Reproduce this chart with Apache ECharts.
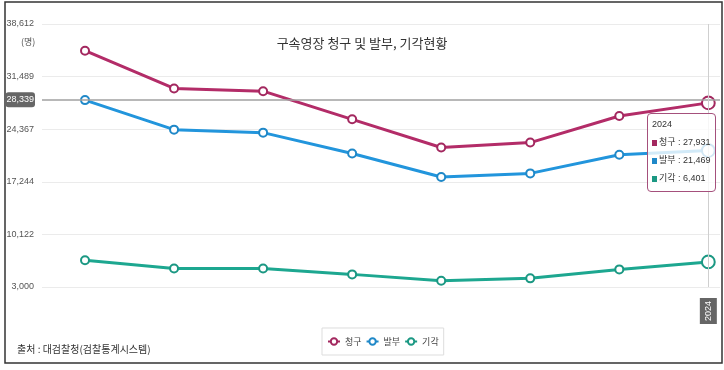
<!DOCTYPE html>
<html>
<head>
<meta charset="utf-8">
<script src="https://cdn.jsdelivr.net/npm/echarts@6/dist/echarts.min.js"></script>
<style>
html,body{margin:0;padding:0;background:#fff;}
#chart{width:724px;height:370px;}
</style>
</head>
<body>
<div id="chart"></div>
<script>
const years = [2017, 2018, 2019, 2020, 2021, 2022, 2023, 2024];
const requested = [34995, 29880, 29516, 25707, 21884, 22557, 26151, 27931]; // 청구
const issued    = [28305, 24307, 23903, 21077, 17900, 18385, 20902, 21469]; // 발부
const rejected  = [6634, 5517, 5517, 4709, 3848, 4171, 5382, 6401];        // 기각
const seriesNames = ['청구', '발부', '기각'];
const yMin = 3000, yMax = 38612, yStep = 7122.4;
const pointerYear = 2024, pointerValue = 28339;

const NARROW = '"Liberation Sans Narrow","Liberation Sans",sans-serif';
const CJK = '"Noto Sans CJK KR","Noto Sans",sans-serif';
const colors = ['#a3285f', '#1f88c8', '#1b9883'];
const fmt = v => Math.floor(v + 1e-6).toLocaleString('en-US');

const chart = echarts.init(document.getElementById('chart'), null, {renderer: 'canvas'});
const mk = (name, vals, color) => ({
  name, type: 'line', data: years.map((y, i) => [y, vals[i]]),
  symbol: 'emptyCircle', symbolSize: 8,
  lineStyle: {color, width: 3},
  itemStyle: {color, borderWidth: 2},
  emphasis: {scale: 1.6, focus: 'none', lineStyle: {width: 3}},
  animation: false
});

chart.setOption({
  animation: false,
  color: colors,
  title: {
    text: '구속영장 청구 및 발부, 기각현황', left: 'center', top: 32,
    textStyle: {fontFamily: CJK, fontSize: 13, fontWeight: 'normal', color: '#333'}
  },
  grid: {left: 42, right: 4, top: 24, bottom: 83, containLabel: false},
  tooltip: {
    trigger: 'axis',
    axisPointer: {type: 'cross'},
    transitionDuration: 0,
    backgroundColor: 'rgba(255,255,255,0.8)',
    borderColor: '#a5507c', borderWidth: 1, padding: [4, 4],
    extraCssText: 'box-shadow:none;border-radius:4px;',
    position: () => [647, 113],
    formatter: params => {
      let s = `<div style="font-family:'Liberation Sans',sans-serif;font-size:9px;color:#333;line-height:17px">` +
        `<div style="line-height:12px;margin-bottom:3px">${params[0].value[0]}</div>`;
      params.forEach(p => {
        s += `<div><span style="display:inline-block;width:5px;height:6px;background:${p.color};margin-right:2px;vertical-align:middle"></span>` +
          `<span style="font-family:'Noto Sans CJK KR';font-size:9px">${p.seriesName}</span> : ${fmt(p.value[1])}</div>`;
      });
      return s + '</div>';
    }
  },
  legend: {
    data: seriesNames, bottom: 15, left: 322,
    borderColor: '#ddd', borderWidth: 1, padding: [9, 5],
    itemWidth: 12, itemHeight: 8, itemGap: 4,
    textStyle: {fontFamily: CJK, fontSize: 9, color: '#444'}
  },
  xAxis: {
    type: 'value', min: 2016.517, max: 2024.131,
    axisLine: {show: false}, axisTick: {show: false}, splitLine: {show: false},
    axisLabel: {
      customValues: [pointerYear], rotate: 90, margin: 11,
      backgroundColor: '#666', color: '#fff', padding: [4, 3],
      fontFamily: NARROW, fontSize: 9, formatter: v => String(v)
    },
    axisPointer: {lineStyle: {color: '#cfcfcf', width: 1, type: 'solid'}, label: {show: false}}
  },
  yAxis: {
    type: 'value', min: yMin, max: yMax, interval: yStep,
    axisLine: {show: false}, axisTick: {show: false},
    splitLine: {lineStyle: {color: '#ebebeb', width: 1}},
    axisLabel: {fontFamily: NARROW, fontSize: 9, color: '#555', margin: 8, formatter: fmt},
    axisPointer: {
      lineStyle: {color: '#a0a0a0', width: 1.5, type: 'solid'},
      label: {backgroundColor: '#666', color: '#fff', padding: [3, 1], margin: 7,
        fontFamily: NARROW, fontSize: 9, formatter: p => fmt(Math.round(p.value))}
    }
  },
  graphic: [
    {type: 'rect', silent: true, shape: {x: 5, y: 2, width: 717, height: 361},
      style: {fill: 'none', stroke: '#333', lineWidth: 1.5}},
    {type: 'text', left: 21, top: 37,
      style: {text: '(명)', fontFamily: CJK, fontSize: 9, fill: '#555'}},
    {type: 'text', left: 17, top: 344,
      style: {text: '출처 : 대검찰청(검찰통계시스템)', fontFamily: CJK, fontSize: 10, fill: '#333'}}
  ],
  series: [mk(seriesNames[0], requested, colors[0]), mk(seriesNames[1], issued, colors[1]), mk(seriesNames[2], rejected, colors[2])]
});

const px = chart.convertToPixel({xAxisIndex: 0}, pointerYear);
const py = chart.convertToPixel({yAxisIndex: 0}, pointerValue);
chart.dispatchAction({type: 'showTip', x: px - 0.5, y: py});
</script>
</body>
</html>
